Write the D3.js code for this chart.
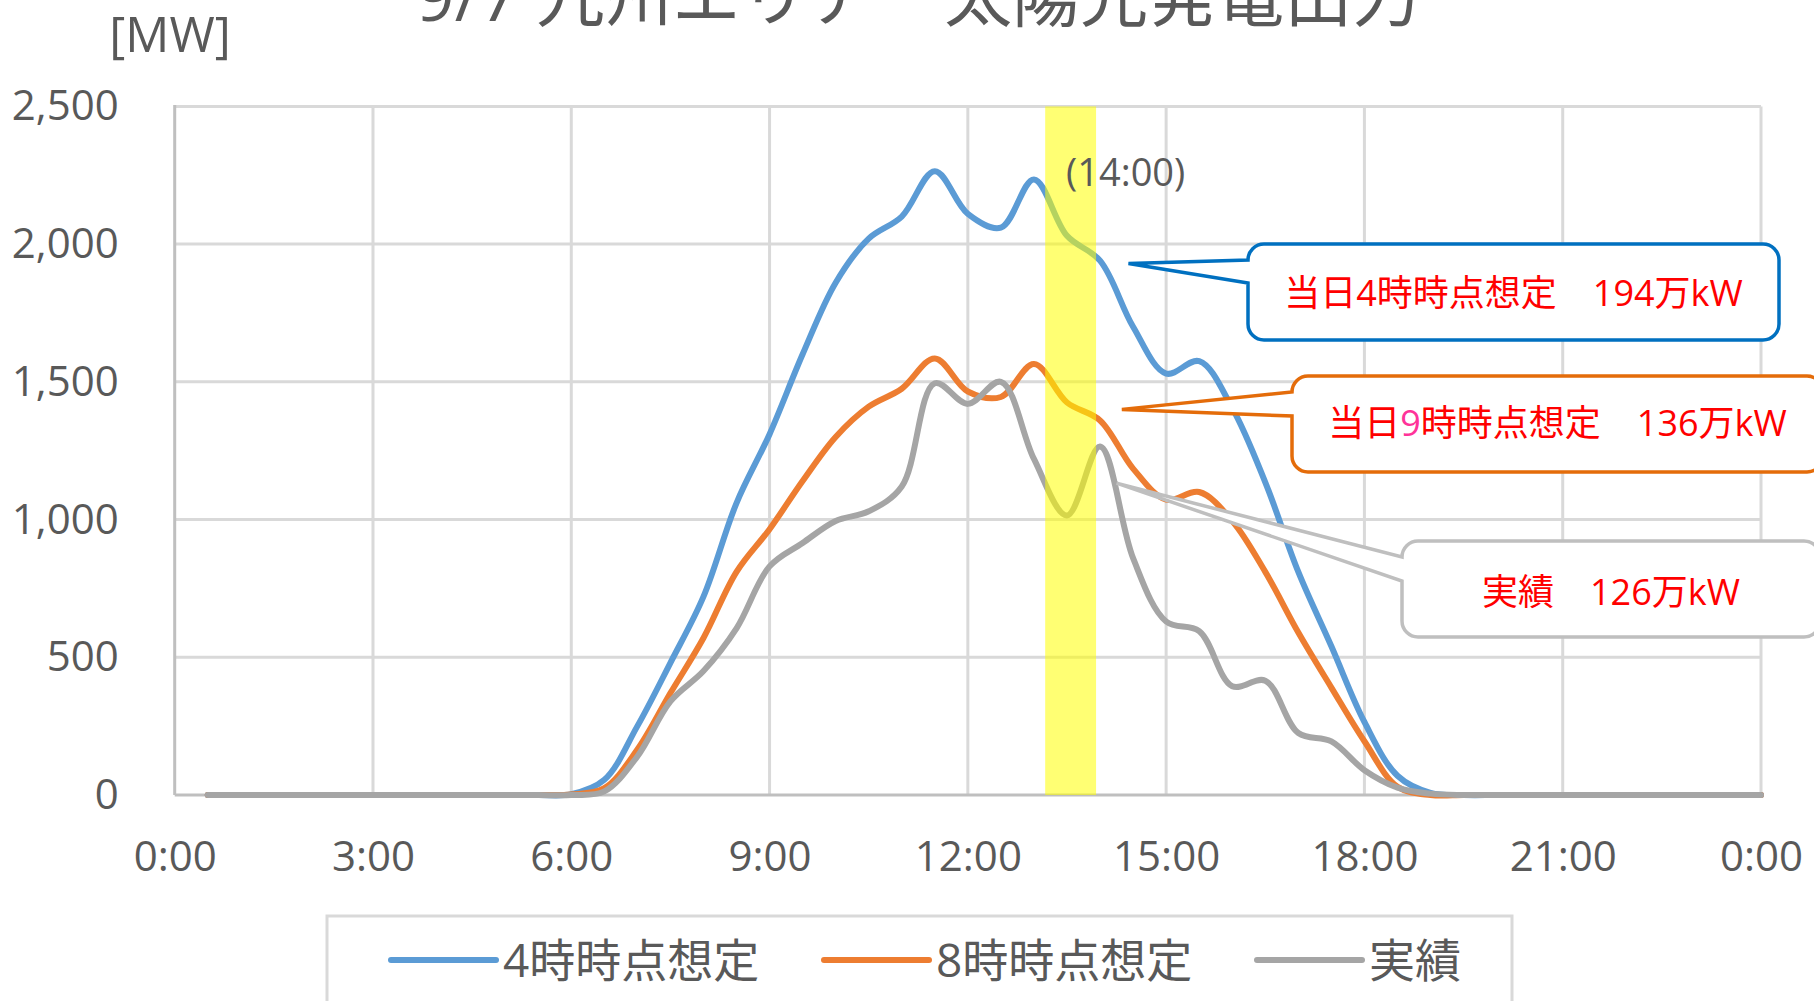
<!DOCTYPE html>
<html>
<head>
<meta charset="utf-8">
<script src="https://cdn.jsdelivr.net/npm/d3@7"></script>
<style>
  body { margin: 0; background: #fff; }
  svg { display: block; font-family: "Open Sans", "Noto Sans CJK JP", sans-serif; }
</style>
</head>
<body>
<svg id="chart" width="1814" height="1001"></svg>
<script>
// Half-hour steps from 0:30 to 24:00
const hours = [0.5, 1, 1.5, 2, 2.5, 3, 3.5, 4, 4.5, 5, 5.5, 6,
    6.5, 7, 7.5, 8, 8.5, 9, 9.5, 10, 10.5, 11, 11.5, 12,
    12.5, 13, 13.5, 14, 14.5, 15, 15.5, 16, 16.5, 17, 17.5, 18,
    18.5, 19, 19.5, 20, 20.5, 21, 21.5, 22, 22.5, 23, 23.5, 24];

// MW values
const forecast4 = [0, 0, 0, 0, 0, 0, 0, 0, 0, 0, 0, 3,
    55, 250, 480, 720, 1060, 1310, 1600, 1860, 2020, 2100, 2265, 2110,
    2060, 2235, 2030, 1940, 1700, 1530, 1575, 1405, 1135, 810, 540, 265,
    70, 8, 0, 0, 0, 0, 0, 0, 0, 0, 0, 0];

const forecast8 = [0, 0, 0, 0, 0, 0, 0, 0, 0, 0, 0, 2,
    25, 165, 370, 570, 810, 965, 1140, 1300, 1410, 1475, 1585, 1465,
    1445, 1565, 1425, 1360, 1185, 1072, 1100, 995, 810, 590, 390, 195,
    30, 0, 0, 0, 0, 0, 0, 0, 0, 0, 0, 0];

const actual = [0, 0, 0, 0, 0, 0, 0, 0, 0, 0, 0, 0,
    13, 140, 340, 450, 605, 830, 915, 995, 1030, 1120, 1495, 1420,
    1500, 1220, 1015, 1265, 860, 630, 595, 395, 415, 225, 195, 90,
    27, 5, 0, 0, 0, 0, 0, 0, 0, 0, 0, 0];

const seriesNames = ["4時時点想定", "8時時点想定", "実績"];
const seriesColors = ["#5B9BD5", "#ED7D31", "#A5A5A5"];

const xTickValues = [0, 3, 6, 9, 12, 15, 18, 21, 24];
const xTickLabels = ["0:00", "3:00", "6:00", "9:00", "12:00", "15:00", "18:00", "21:00", "0:00"];
const yTickValues = [0, 500, 1000, 1500, 2000, 2500];

const bandStart = 13.17, bandEnd = 13.94;

const svg = d3.select("#chart");
const margin = { left: 174.7, right: 1761, top: 106.4, bottom: 795 };
const textGrey = "#595959";

const x = d3.scaleLinear().domain([0, 24]).range([margin.left, margin.right]);
const y = d3.scaleLinear().domain([0, 2500]).range([margin.bottom, margin.top]);

// Title (partly cut off at the top, as in the source)
svg.append("text")
    .attr("x", 918)
    .attr("y", 21)
    .attr("text-anchor", "middle")
    .style("font-size", "68px")
    .style("fill", textGrey)
    .text("9/7 九州エリア　太陽光発電出力");

svg.append("text")
    .attr("x", 170)
    .attr("y", 52)
    .attr("text-anchor", "middle")
    .style("font-size", "49px")
    .style("fill", textGrey)
    .text("[MW]");

// Gridlines
svg.append("g")
    .selectAll("line")
    .data(yTickValues.filter(d => d > 0))
    .join("line")
    .attr("x1", x(0)).attr("x2", x(24))
    .attr("y1", d => y(d)).attr("y2", d => y(d))
    .attr("stroke", "#D9D9D9")
    .attr("stroke-width", 3);

svg.append("g")
    .selectAll("line")
    .data(xTickValues.filter(d => d > 0))
    .join("line")
    .attr("x1", d => x(d)).attr("x2", d => x(d))
    .attr("y1", y(2500)).attr("y2", y(0))
    .attr("stroke", "#D9D9D9")
    .attr("stroke-width", 3);

// Axis lines
svg.append("line")
    .attr("x1", x(0)).attr("x2", x(0))
    .attr("y1", y(2500) - 1.5).attr("y2", y(0))
    .attr("stroke", "#BFBFBF").attr("stroke-width", 3);
svg.append("line")
    .attr("x1", x(0)).attr("x2", x(24))
    .attr("y1", y(0)).attr("y2", y(0))
    .attr("stroke", "#BFBFBF").attr("stroke-width", 3);

// Axes labels
const yAxis = d3.axisLeft(y)
    .tickValues(yTickValues)
    .tickSize(0)
    .tickPadding(56)
    .tickFormat(d3.format(","));
svg.append("g")
    .attr("transform", `translate(${x(0)},0)`)
    .call(yAxis)
    .call(g => g.select(".domain").remove())
    .call(g => g.selectAll("text")
        .style("font-size", "42px")
        .style("font-family", "'Open Sans', sans-serif")
        .style("fill", textGrey));

const xAxis = d3.axisBottom(x)
    .tickValues(xTickValues)
    .tickSize(0)
    .tickPadding(46)
    .tickFormat((d, i) => xTickLabels[i]);
svg.append("g")
    .attr("transform", `translate(0,${y(0)})`)
    .call(xAxis)
    .call(g => g.select(".domain").remove())
    .call(g => g.selectAll("text")
        .style("font-size", "42px")
        .style("font-family", "'Open Sans', sans-serif")
        .style("fill", textGrey));

// Lines
const allSeries = [forecast4, forecast8, actual];
const line = d3.line()
    .x((d, i) => x(hours[i]))
    .y(d => y(d))
    .curve(d3.curveCatmullRom.alpha(0.5));

svg.append("g")
    .selectAll("path")
    .data(allSeries)
    .join("path")
    .attr("d", d => line(d))
    .attr("fill", "none")
    .attr("stroke", (d, i) => seriesColors[i])
    .attr("stroke-width", 6)
    .attr("stroke-linecap", "round")
    .attr("stroke-linejoin", "round");

// Highlight band drawn over the lines
svg.append("rect")
    .attr("x", x(bandStart))
    .attr("y", y(2500))
    .attr("width", x(bandEnd) - x(bandStart))
    .attr("height", y(0) - y(2500))
    .attr("fill", "#FFFF00")
    .attr("opacity", 0.55);

svg.append("text")
    .attr("x", 1066)
    .attr("y", 186)
    .style("font-size", "38px")
    .style("fill", textGrey)
    .text("(14:00)");

// Callouts
function calloutPath(b, tx, ty) {
    const r = b.r;
    return `M${b.x + r},${b.y}` +
        `H${b.x + b.w - r}A${r},${r} 0 0 1 ${b.x + b.w},${b.y + r}` +
        `V${b.y + b.h - r}A${r},${r} 0 0 1 ${b.x + b.w - r},${b.y + b.h}` +
        `H${b.x + r}A${r},${r} 0 0 1 ${b.x},${b.y + b.h - r}` +
        `V${b.w2}L${tx},${ty}L${b.x},${b.w1}` +
        `V${b.y + r}A${r},${r} 0 0 1 ${b.x + r},${b.y}Z`;
}

const callouts = [
    { x: 1248, y: 244, w: 531, h: 96, r: 16, w1: 260, w2: 283, tipH: 14.43, tipV: 1930,
      stroke: "#0070C0", cy: 306,
      parts: [["当日4時時点想定　194万kW", "#FF0000"]] },
    { x: 1292, y: 376, w: 531, h: 96, r: 16, w1: 392, w2: 416, tipH: 14.33, tipV: 1400,
      stroke: "#E46C0A", cy: 436,
      parts: [["当日", "#FF0000"], ["9", "#FF3399"], ["時時点想定　136万kW", "#FF0000"]] },
    { x: 1402, y: 541, w: 418, h: 96, r: 16, w1: 557, w2: 581, tipH: 14.25, tipV: 1132,
      stroke: "#BFBFBF", cy: 605,
      parts: [["実績　126万kW", "#FF0000"]] }
];

callouts.forEach(c => {
    svg.append("path")
        .attr("d", calloutPath(c, x(c.tipH), y(c.tipV)))
        .attr("fill", "#fff")
        .attr("stroke", c.stroke)
        .attr("stroke-width", 3.5)
        .attr("stroke-linejoin", "miter");
    const t = svg.append("text")
        .attr("x", c.x + c.w / 2)
        .attr("y", c.cy)
        .attr("text-anchor", "middle")
        .style("font-size", "36px");
    c.parts.forEach(p => t.append("tspan").style("fill", p[1]).text(p[0]));
});

// Legend
svg.append("rect")
    .attr("x", 327).attr("y", 916)
    .attr("width", 1185).attr("height", 140)
    .attr("fill", "#fff")
    .attr("stroke", "#D9D9D9")
    .attr("stroke-width", 3);

const legendX = [391, 824, 1257];
const legend = svg.append("g")
    .selectAll("g")
    .data(seriesNames)
    .join("g")
    .attr("transform", (d, i) => `translate(${legendX[i]},960)`);

legend.append("line")
    .attr("x1", 0).attr("x2", 105)
    .attr("stroke", (d, i) => seriesColors[i])
    .attr("stroke-width", 6)
    .attr("stroke-linecap", "round");

legend.append("text")
    .attr("x", 112)
    .attr("y", 17)
    .style("font-size", "46px")
    .style("fill", textGrey)
    .text(d => d);
</script>
</body>
</html>
